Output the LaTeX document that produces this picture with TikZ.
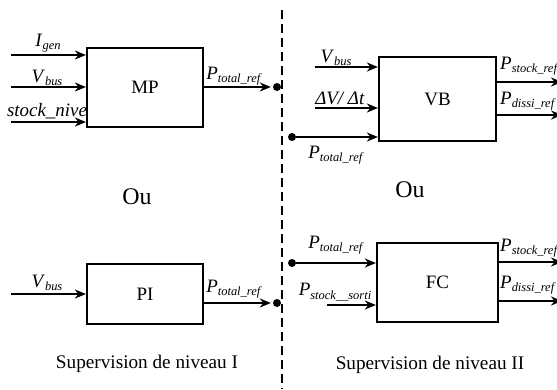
\documentclass[tikz,border=0pt]{standalone}
\usepackage{fontspec}
\setmainfont{Liberation Serif}
\usetikzlibrary{arrows.meta}
\newcommand{\sigl}[2]{\textit{#1}\raisebox{-0.4ex}{\fontsize{12.5}{13}\selectfont\textit{#2}}}
\begin{document}
\begin{tikzpicture}[x=1bp,y=-1bp,
  blk/.style={draw,line width=2.2bp,inner sep=0pt,font=\fontsize{19}{20}\selectfont},
  sig/.style={line width=2.2bp,-{Stealth[length=11bp,width=9bp,inset=3.5bp]}},
  lab/.style={inner sep=0pt,font=\fontsize{19}{20}\selectfont},
  big/.style={inner sep=0pt,font=\fontsize{24}{26}\selectfont},
  captxt/.style={inner sep=0pt,font=\fontsize{19.3}{21}\selectfont},
  dot/.style={circle,fill,inner sep=0pt,minimum size=8bp}]
\useasboundingbox (0,0) rectangle (557,389);
% separator
\draw[line width=2.2bp,dash pattern=on 9bp off 5bp] (282,10) -- (282,389);

% ---- Level I : MP ----
\node[blk,minimum width=116bp,minimum height=79bp] (mp) at (145,87.5) {MP};
\coordinate (a1) at (11,55);
\coordinate (a2) at (11,87);
\coordinate (a3) at (11,122);
\draw[sig] (a1) -- (mp.west |- a1);
\draw[sig] (a2) -- (mp.west |- a2);
\draw[sig] (a3) -- (mp.west |- a3);
\node[lab] (lig) at (48,43) {\sigl{I}{gen}};
\node[lab] (lvb) at (47,78) {\sigl{V}{bus}};
\node[lab] (lsn) at (47,111) {\textit{stock\_nive}};
\node[dot] (d1) at (277,87) {};
\draw[sig,shorten >=2bp] (mp.east |- d1) -- (d1);
\node[lab] (lpt1) at (234,76) {\sigl{P}{total\_ref}};

\node[big] (ou1) at (137,197) {Ou};

% ---- Level I : PI ----
\node[blk,minimum width=116bp,minimum height=60bp] (pi) at (145,294) {PI};
\coordinate (a4) at (11,294);
\draw[sig] (a4) -- (pi.west |- a4);
\node[lab] (lvb2) at (47,283) {\sigl{V}{bus}};
\node[dot] (d2) at (277,303) {};
\draw[sig,shorten >=2bp] (pi.east |- d2) -- (d2);
\node[lab] (lpt2) at (234,289) {\sigl{P}{total\_ref}};

\node[captxt] (s1) at (147,364) {Supervision de niveau I};

% ---- Level II : VB ----
\node[blk,minimum width=117bp,minimum height=84bp] (vb) at (437.5,99) {VB};
\coordinate (b1) at (315,67);
\coordinate (b2) at (315,108);
\node[dot] (d3) at (292,137) {};
\draw[sig] (b1) -- (vb.west |- b1);
\draw[sig] (b2) -- (vb.west |- b2);
\draw[sig] (d3) -- (vb.west |- d3);
\node[lab] (lvb3) at (336,58) {\sigl{V}{bus}};
\node[lab] (ldv) at (340,98) {\textit{ΔV/ Δt}};
\node[lab] (lpt3) at (336,155) {\sigl{P}{total\_ref}};
\coordinate (c1) at (562,82);
\coordinate (c2) at (562,115);
\draw[sig] (vb.east |- c1) -- (c1);
\draw[sig] (vb.east |- c2) -- (c2);
\node[lab,anchor=west] (lps1) at (500,66) {\sigl{P}{stock\_ref}};
\node[lab,anchor=west] (lpd1) at (500,101) {\sigl{P}{dissi\_ref}};

\node[big] (ou2) at (410,190) {Ou};

% ---- Level II : FC ----
\node[blk,minimum width=121bp,minimum height=79bp] (fc) at (437.5,282.5) {FC};
\node[dot] (d4) at (292,263) {};
\coordinate (b3) at (327,305);
\draw[sig] (d4) -- (fc.west |- d4);
\draw[sig] (b3) -- (fc.west |- b3);
\node[lab] (lpt4) at (336,245) {\sigl{P}{total\_ref}};
\node[lab] (lpss) at (335,292) {\sigl{P}{stock\_\_sorti}};
\coordinate (c3) at (562,262);
\coordinate (c4) at (562,301);
\draw[sig] (fc.east |- c3) -- (c3);
\draw[sig] (fc.east |- c4) -- (c4);
\node[lab,anchor=west] (lps2) at (500,248) {\sigl{P}{stock\_ref}};
\node[lab,anchor=west] (lpd2) at (500,285) {\sigl{P}{dissi\_ref}};

\node[captxt] (s2) at (430,365) {Supervision de niveau II};
\end{tikzpicture}
\end{document}
